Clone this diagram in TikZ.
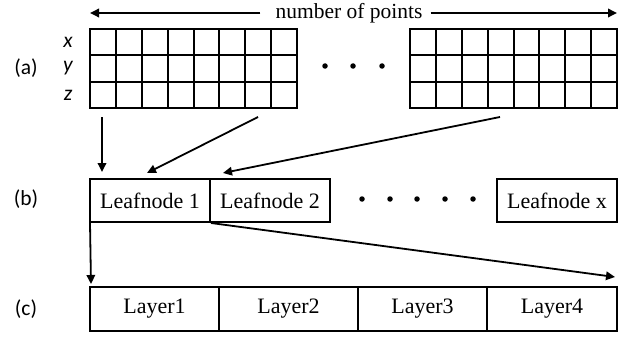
\documentclass[tikz,border=0pt]{standalone}
\usepackage{fontspec}
\setmainfont{Liberation Serif}
\newfontfamily\labelfont{Carlito}
\usetikzlibrary{arrows.meta}
\tikzset{
  line/.style={line width=2pt},
  arr/.style={line width=1.8pt,-{Triangle[length=9pt,width=8.5pt]}},
  cellbox/.style={draw,line width=2pt,minimum height=43pt,inner sep=0pt,font=\fontsize{22}{24}\selectfont},
  tag/.style={font=\labelfont\fontsize{21.5}{24}\selectfont,inner sep=0pt},
  axis/.style={font=\labelfont\itshape\fontsize{21.5}{24}\selectfont,inner sep=0pt},
  dot/.style={circle,fill,inner sep=0pt,minimum size=5.5pt}
}
\begin{document}
\begin{tikzpicture}[x=1pt,y=-1pt]
\useasboundingbox (0,0) rectangle (626,337);

% axis annotation over the point arrays
\node[font=\fontsize{21.5}{24}\selectfont,inner sep=0pt] (np) at (349,13) {number of points};
\coordinate (npl) at (90,13);
\coordinate (npr) at (617,13);
\draw[arr] (np.west) ++(-15pt,0) coordinate (npa) -- (npl);
\draw[arr] (np.east) ++(8pt,0) coordinate (npb) -- (npr);

% row labels
\node[tag] (ta) at (26,68) {(a)};
\node[tag] (tb) at (26,199) {(b)};
\node[tag] (tc) at (26,309) {(c)};
\node[axis] (lx) at (68,42) {x};
\node[axis] (ly) at (68,68) {y};
\node[axis] (lz) at (68,95) {z};

% point arrays, 8 columns x 3 rows each
\draw[line] (90,29) rectangle (297,108);
\foreach \i in {1,...,7} \draw[line] ({90+\i*25.875},29) -- ({90+\i*25.875},108);
\foreach \j in {1,2} \draw[line] (90,{29+\j*26.333}) -- (297,{29+\j*26.333});
\draw[line] (410,29) rectangle (617,108);
\foreach \i in {1,...,7} \draw[line] ({410+\i*25.875},29) -- ({410+\i*25.875},108);
\foreach \j in {1,2} \draw[line] (410,{29+\j*26.333}) -- (617,{29+\j*26.333});
\foreach \x/\n in {325/a1,353/a2,382/a3} \node[dot] (d\n) at (\x,66) {};

% leaf nodes
\node[cellbox,minimum width=120pt] (l1) at (150,200.5) {Leafnode 1};
\node[cellbox,minimum width=120pt] (l2) at (270,200.5) {Leafnode 2};
\node[cellbox,minimum width=120pt] (lx) at (557,200.5) {Leafnode x};
\foreach \x/\n in {362/b1,390/b2,417/b3,445/b4,473/b5} \node[dot] (d\n) at (\x,199) {};

% layers
\node[cellbox,minimum width=129pt,minimum height=44pt] (y1) at (154.5,309) {Layer1};
\node[cellbox,minimum width=139pt,minimum height=44pt] (y2) at (288.5,309) {Layer2};
\node[cellbox,minimum width=129pt,minimum height=44pt] (y3) at (422.5,309) {Layer3};
\node[cellbox,minimum width=130pt,minimum height=44pt] (y4) at (552,309) {Layer4};

% arrows from the point arrays to the leaf nodes
\coordinate (s1) at (102,117);
\coordinate (s2) at (258,117);
\coordinate (s3) at (500,117);
\coordinate (e1) at (102,172);
\coordinate (e2) at (147,173);
\coordinate (e3) at (223,173);
\draw[arr] (s1) -- (e1);
\draw[arr] (s2) -- (e2);
\draw[arr] (s3) -- (e3);

% arrows from leaf node 1 to the layers
\coordinate (f1) at (91,284);
\coordinate (f2) at (615,277);
\draw[arr] (l1.south west) ++(1pt,0) -- (f1);
\draw[arr] (l1.south east) -- (f2);
\end{tikzpicture}
\end{document}
